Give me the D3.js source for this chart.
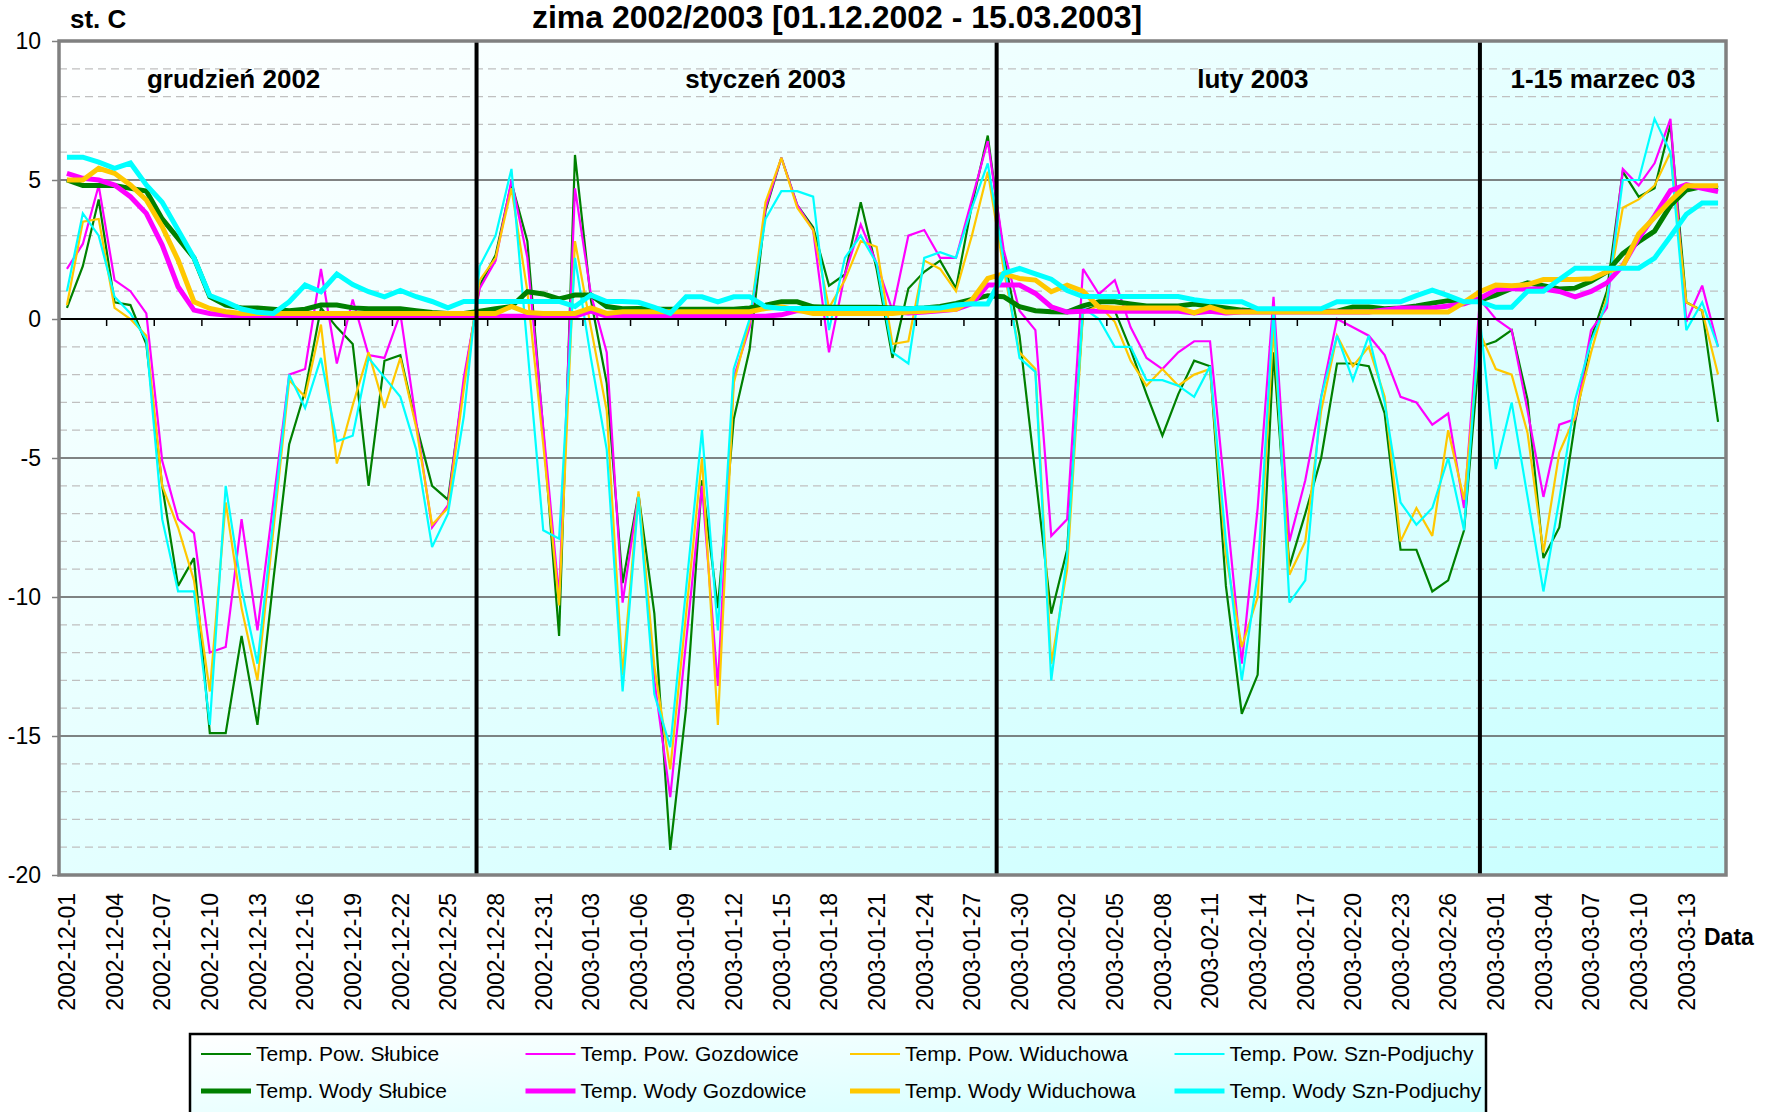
<!DOCTYPE html>
<html><head><meta charset="utf-8">
<script src="https://cdn.jsdelivr.net/npm/d3@7"></script>
<style>html,body{margin:0;padding:0;background:#fff;} svg{display:block;font-family:"Liberation Sans",Arial,sans-serif;}</style>
</head><body><svg id="chart" width="1771" height="1112"></svg>
<script>
// ---- data ----
const categories = d3.timeDay.range(new Date(2002, 11, 1), new Date(2003, 2, 16)).map(d3.timeFormat("%Y-%m-%d"));
const yTicks = [-20, -15, -10, -5, 0, 5, 10];
const yTickLabels = ["-20", "-15", "-10", "-5", "0", "5", "10"];
const seriesNames = ["Temp. Pow. Słubice", "Temp. Pow. Gozdowice", "Temp. Pow. Widuchowa", "Temp. Pow. Szn-Podjuchy",
  "Temp. Wody Słubice", "Temp. Wody Gozdowice", "Temp. Wody Widuchowa", "Temp. Wody Szn-Podjuchy"];
const monthLabels = ["grudzień 2002", "styczeń 2003", "luty 2003", "1-15 marzec 03"];
const monthLabelPos = [10.5, 44.0, 74.7, 96.75];   // category positions
const monthDividers = [25.8, 58.56, 89.0];         // category positions

const powSlubice = [0.4,1.9,4.3,0.6,0.5,-0.9,-6.0,-9.6,-8.6,-14.9,-14.9,-11.4,-14.6,-9.4,-4.5,-2.6,0.4,-0.3,-0.9,-6.0,-1.5,-1.3,-3.8,-6.0,-6.5,-2.3,1.2,
  2.3,4.9,2.8,-4.0,-11.4,5.9,0.7,-2.3,-9.5,-6.3,-10.6,-19.1,-14.0,-5.8,-10.4,-3.6,-1.1,3.9,5.8,4.1,3.3,1.2,1.6,4.2,1.8,-1.4,1.1,1.7,2.1,1.1,4.1,6.6,2.3,-0.6,-5.6,
  -10.6,-8.3,0.3,0.5,0.3,-1.1,-2.7,-4.2,-2.7,-1.5,-1.7,-9.6,-14.2,-12.8,-1.2,-8.9,-7.0,-5.0,-1.6,-1.6,-1.7,-3.4,-8.3,-8.3,-9.8,-9.4,-7.6,-1.0,
  -0.8,-0.4,-2.9,-8.6,-7.5,-3.7,-0.7,1.0,5.3,4.4,4.7,7.0,0.6,0.3,-3.7];
const powGozdowice = [1.8,2.7,4.8,1.4,1.0,0.2,-5.1,-7.2,-7.7,-12.0,-11.8,-7.2,-11.2,-6.6,-2.0,-1.8,1.8,-1.6,0.7,-1.3,-1.4,0.2,-3.7,-7.5,-6.7,-2.1,1.1,
  2.1,5.0,2.2,-3.9,-10.0,4.7,0.9,-1.2,-10.2,-6.3,-13.0,-17.2,-11.6,-6.0,-13.2,-2.1,-0.3,4.0,5.8,4.1,3.2,-1.2,1.6,3.4,2.0,0.3,3.0,3.2,2.2,2.2,4.3,6.4,2.5,0.3,-0.4,
  -7.8,-7.2,1.8,0.9,1.4,-0.3,-1.4,-1.8,-1.2,-0.8,-0.8,-6.6,-12.4,-6.8,0.8,-8.0,-5.8,-2.8,0.0,-0.3,-0.6,-1.3,-2.8,-3.0,-3.8,-3.4,-6.8,0.7,
  0.0,-0.4,-3.3,-6.4,-3.8,-3.6,-0.4,0.4,5.4,4.8,5.6,7.2,-0.1,1.2,-1.0];
const powWiduchowa = [0.5,3.5,3.6,0.4,0.0,-0.6,-6.0,-7.5,-9.4,-13.4,-6.6,-10.4,-13.0,-7.6,-2.2,-2.8,-0.2,-5.2,-3.1,-1.2,-3.2,-1.4,-3.9,-7.4,-6.8,-2.5,1.4,
  2.2,4.7,1.0,-4.5,-10.3,2.8,-0.3,-3.3,-12.8,-6.2,-12.5,-16.2,-10.6,-5.0,-14.6,-2.3,-0.1,4.2,5.8,4.0,3.2,0.4,1.4,2.8,2.6,-0.9,-0.8,2.1,1.8,1.0,3.0,5.3,1.8,-1.2,-1.8,
  -12.4,-9.0,0.2,0.5,-0.1,-1.5,-2.4,-1.8,-2.4,-2.0,-1.8,-8.5,-11.8,-10.0,-0.3,-9.2,-8.0,-3.3,-0.6,-1.7,-1.0,-2.8,-8.0,-6.8,-7.8,-4.0,-6.5,-0.5,
  -1.8,-2.0,-4.1,-8.4,-4.8,-3.5,-1.2,0.8,4.0,4.3,4.8,6.0,0.6,0.3,-2.0];
const powSznPodjuchy = [1.0,3.8,3.0,0.8,0.2,-0.75,-7.2,-9.8,-9.8,-14.6,-6.0,-9.7,-12.4,-7.2,-2.0,-3.2,-1.4,-4.4,-4.2,-1.4,-2.1,-2.8,-4.7,-8.2,-7.0,-3.5,1.9,
  3.0,5.4,-1.0,-7.6,-7.9,2.2,-1.4,-4.7,-13.4,-6.4,-13.5,-15.4,-9.7,-4.0,-11.2,-1.8,0.0,3.6,4.6,4.6,4.4,-0.4,2.2,3.0,2.0,-1.2,-1.6,2.2,2.4,2.2,4.0,5.6,2.1,-1.4,-1.9,
  -13.0,-8.5,0.4,0.0,-1.0,-1.0,-2.2,-2.2,-2.4,-2.8,-1.7,-8.0,-13.0,-9.2,0.4,-10.2,-9.4,-2.8,-0.6,-2.2,-0.6,-3.0,-6.6,-7.4,-6.8,-5.0,-7.6,0.0,
  -5.4,-3.0,-6.4,-9.8,-6.5,-2.9,-0.8,0.6,5.0,5.0,7.2,6.0,-0.4,0.6,-1.0];
const wodySlubice = [5.0,4.8,4.8,4.8,4.7,4.6,3.6,2.9,2.2,0.8,0.5,0.4,0.4,0.35,0.3,0.35,0.5,0.5,0.4,0.37,0.37,0.37,0.3,0.23,0.2,0.2,0.28,
  0.37,0.45,0.98,0.9,0.72,0.86,0.86,0.45,0.37,0.38,0.35,0.35,0.35,0.35,0.35,0.35,0.4,0.5,0.62,0.62,0.44,0.42,0.42,0.42,0.42,0.4,0.37,0.4,0.45,0.56,0.7,0.84,0.8,0.44,0.3,
  0.26,0.25,0.47,0.62,0.62,0.54,0.47,0.47,0.47,0.54,0.47,0.4,0.32,0.28,0.28,0.28,0.28,0.28,0.28,0.43,0.43,0.37,0.4,0.47,0.57,0.66,0.6,0.68,
  0.86,1.1,1.3,1.2,1.08,1.11,1.36,1.7,2.35,2.78,3.16,4.08,4.64,4.76,4.7];
const wodyGozdowice = [5.24,5.06,5.0,4.82,4.4,3.8,2.66,1.16,0.32,0.2,0.14,0.1,0.1,0.1,0.1,0.1,0.1,0.1,0.1,0.1,0.1,0.1,0.1,0.1,0.1,0.1,0.1,
  0.1,0.1,0.1,0.1,0.1,0.1,0.28,0.1,0.1,0.1,0.1,0.1,0.1,0.1,0.1,0.1,0.1,0.1,0.15,0.3,0.3,0.3,0.3,0.3,0.3,0.26,0.22,0.25,0.3,0.35,0.55,1.22,1.22,1.22,0.92,
  0.44,0.25,0.28,0.28,0.28,0.28,0.28,0.28,0.28,0.22,0.28,0.22,0.25,0.25,0.25,0.25,0.25,0.25,0.25,0.25,0.25,0.32,0.4,0.4,0.4,0.47,0.55,0.74,
  1.05,1.1,1.08,1.08,0.99,0.8,0.99,1.3,1.92,2.91,3.71,4.62,4.83,4.7,4.58];
const wodyWiduchowa = [5.0,5.0,5.42,5.24,4.82,4.28,3.32,2.12,0.62,0.38,0.26,0.2,0.2,0.2,0.2,0.2,0.2,0.2,0.2,0.2,0.2,0.2,0.2,0.2,0.2,0.2,0.2,
  0.2,0.45,0.23,0.2,0.2,0.2,0.4,0.2,0.26,0.26,0.26,0.26,0.26,0.26,0.26,0.26,0.26,0.38,0.44,0.32,0.2,0.2,0.2,0.2,0.2,0.2,0.25,0.28,0.32,0.35,0.68,1.46,1.62,1.46,1.4,
  0.98,1.22,1.0,0.43,0.4,0.4,0.4,0.4,0.4,0.22,0.43,0.25,0.25,0.25,0.25,0.25,0.25,0.25,0.25,0.25,0.25,0.25,0.25,0.25,0.25,0.25,0.6,0.98,
  1.22,1.2,1.24,1.42,1.42,1.42,1.45,1.7,1.89,3.06,3.65,4.25,4.79,4.79,4.79];
const wodySznPodjuchy = [5.82,5.82,5.64,5.42,5.61,4.82,4.2,3.2,2.2,0.84,0.62,0.36,0.24,0.2,0.62,1.22,0.98,1.62,1.24,0.98,0.8,1.03,0.8,0.63,0.4,0.63,0.63,
  0.63,0.63,0.63,0.63,0.63,0.45,0.86,0.63,0.63,0.6,0.42,0.2,0.8,0.8,0.62,0.8,0.8,0.44,0.38,0.38,0.38,0.38,0.38,0.38,0.38,0.38,0.37,0.4,0.4,0.5,0.55,0.54,1.64,1.82,1.62,
  1.43,1.02,0.81,0.81,0.81,0.81,0.81,0.81,0.81,0.69,0.62,0.62,0.62,0.37,0.37,0.37,0.37,0.37,0.62,0.62,0.62,0.62,0.62,0.84,1.04,0.84,0.62,0.62,
  0.42,0.42,1.0,1.0,1.42,1.83,1.83,1.83,1.83,1.83,2.19,2.97,3.77,4.17,4.17];

const seriesValues = [powSlubice, powGozdowice, powWiduchowa, powSznPodjuchy, wodySlubice, wodyGozdowice, wodyWiduchowa, wodySznPodjuchy];
const seriesColors = ["#008000", "#ff00ff", "#ffc800", "#00ffff", "#008000", "#ff00ff", "#ffc800", "#00ffff"];
const seriesWidths = [2.2, 2.2, 2.2, 2.2, 5, 5, 5, 5];

// ---- layout ----
const plot = {left: 59, right: 1726, top: 41, bottom: 875};
const svg = d3.select("#chart");
const defs = svg.append("defs");
["bg", "bg2"].forEach(id => {
  const g = defs.append("linearGradient").attr("id", id).attr("x1", 0).attr("y1", 0).attr("x2", 1).attr("y2", 1);
  g.append("stop").attr("offset", "0%").attr("stop-color", "#ffffff");
  g.append("stop").attr("offset", "100%").attr("stop-color", "#c8ffff");
});

const x = d3.scaleBand().domain(categories).range([plot.left, plot.right]).padding(0);
const xc = c => x(c) + x.bandwidth() / 2;
const xPos = k => plot.left + (k + 0.5) * x.step();
const y = d3.scaleLinear().domain([-20, 10]).range([plot.bottom, plot.top]);

// plot background
svg.append("rect").attr("x", plot.left).attr("y", plot.top).attr("width", plot.right - plot.left)
  .attr("height", plot.bottom - plot.top).attr("fill", "url(#bg)");

// minor gridlines
const minor = d3.range(-19, 10).filter(v => v % 5 !== 0);
svg.append("g").selectAll("line").data(minor).join("line")
  .attr("x1", plot.left).attr("x2", plot.right).attr("y1", d => y(d)).attr("y2", d => y(d))
  .attr("stroke", "#c0c0c0").attr("stroke-width", 1.2).attr("stroke-dasharray", "8,5");
// major gridlines
svg.append("g").selectAll("line").data(yTicks.filter(v => v !== 0 && v !== 10 && v !== -20)).join("line")
  .attr("x1", plot.left).attr("x2", plot.right).attr("y1", d => y(d)).attr("y2", d => y(d))
  .attr("stroke", "#5a5a5a").attr("stroke-width", 1.5);

// series
const line = d3.line().x((d, i) => xc(categories[i])).y(d => y(d));
svg.append("g").selectAll("path").data(d3.range(seriesValues.length)).join("path")
  .attr("d", k => line(seriesValues[k]))
  .attr("fill", "none").attr("stroke", k => seriesColors[k]).attr("stroke-width", k => seriesWidths[k])
  .attr("stroke-linejoin", "miter").attr("stroke-miterlimit", 3);

// zero axis line and ticks
svg.append("line").attr("x1", plot.left).attr("x2", plot.right).attr("y1", y(0)).attr("y2", y(0))
  .attr("stroke", "#000").attr("stroke-width", 2);
const tickBounds = d3.range(0, categories.length + 1, 3);
svg.append("g").selectAll("line").data(tickBounds).join("line")
  .attr("x1", k => plot.left + k * x.step()).attr("x2", k => plot.left + k * x.step())
  .attr("y1", y(0)).attr("y2", y(0) + 7).attr("stroke", "#000").attr("stroke-width", 1.5);

// month dividers
svg.append("g").selectAll("line").data(monthDividers).join("line")
  .attr("x1", k => xPos(k)).attr("x2", k => xPos(k)).attr("y1", plot.top).attr("y2", plot.bottom)
  .attr("stroke", "#000").attr("stroke-width", 4);

// plot border
svg.append("rect").attr("x", plot.left).attr("y", plot.top).attr("width", plot.right - plot.left)
  .attr("height", plot.bottom - plot.top).attr("fill", "none").attr("stroke", "#808080").attr("stroke-width", 3.5);

// month labels
svg.append("g").selectAll("text").data(monthLabels).join("text")
  .attr("x", (d, i) => xPos(monthLabelPos[i])).attr("y", 88).attr("text-anchor", "middle")
  .attr("font-size", 26).attr("font-weight", "bold").attr("fill", "#000").text(d => d);

// y axis
const yAxis = svg.append("g").attr("transform", `translate(${plot.left},0)`)
  .call(d3.axisLeft(y).tickValues(yTicks).tickFormat((d, i) => yTickLabels[i]).tickSize(7).tickPadding(11));
yAxis.select(".domain").remove();
yAxis.selectAll(".tick line").attr("stroke", "#808080").attr("stroke-width", 1.5);
yAxis.selectAll(".tick text").attr("font-size", 23).attr("font-family", "Liberation Sans, Arial, sans-serif").attr("fill", "#000");

// x axis labels
const labelCats = categories.filter((d, i) => i % 3 === 0);
const xAxis = svg.append("g").attr("transform", `translate(0,${plot.bottom})`)
  .call(d3.axisBottom(x).tickValues(labelCats).tickSize(0));
xAxis.select(".domain").remove();
xAxis.selectAll(".tick text")
  .attr("transform", "rotate(-90)").attr("x", -18).attr("y", 0).attr("dy", "0.36em")
  .style("text-anchor", "end").attr("font-size", 23).attr("font-family", "Liberation Sans, Arial, sans-serif").attr("fill", "#000");

// titles
svg.append("text").attr("x", 837).attr("y", 28).attr("text-anchor", "middle").attr("font-size", 32)
  .attr("font-weight", "bold").text("zima 2002/2003 [01.12.2002 - 15.03.2003]");
svg.append("text").attr("x", 70).attr("y", 28).attr("font-size", 26).attr("font-weight", "bold").text("st. C");
svg.append("text").attr("x", 1704).attr("y", 945).attr("font-size", 23).attr("font-weight", "bold").text("Data");

// legend
const lg = svg.append("g");
lg.append("rect").attr("x", 190).attr("y", 1034).attr("width", 1296).attr("height", 110)
  .attr("fill", "url(#bg2)").attr("stroke", "#000").attr("stroke-width", 2.5);
const legendItems = seriesNames.map((n, k) => ({name: n, k, col: k % 4, row: Math.floor(k / 4)}));
const leg = lg.selectAll("g.item").data(legendItems).join("g").attr("class", "item")
  .attr("transform", d => `translate(${201 + d.col * 324.5},${1054 + d.row * 37})`);
leg.append("line").attr("x1", 0).attr("x2", 50).attr("y1", 0).attr("y2", 0)
  .attr("stroke", d => seriesColors[d.k]).attr("stroke-width", d => seriesWidths[d.k]);
leg.append("text").attr("x", 55).attr("y", 7).attr("font-size", 21).attr("fill", "#000").text(d => d.name);
</script></body></html>
